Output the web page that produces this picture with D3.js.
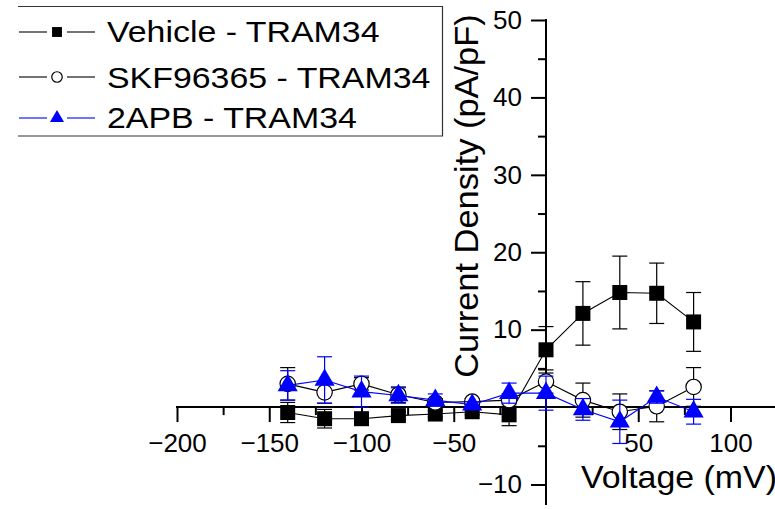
<!DOCTYPE html>
<html>
<head>
<meta charset="utf-8">
<script src="https://cdn.jsdelivr.net/npm/d3@7"></script>
<style>
  html, body { margin: 0; padding: 0; background: #fff; }
  svg { display: block; font-family: "Liberation Sans", Arial, sans-serif; }
</style>
</head>
<body>
<svg id="chart" width="775" height="509"></svg>
<script>
// ---- data ----
const voltages = [-140, -120, -100, -80, -60, -40, -20, 0, 20, 40, 60, 80];
const vehicleMean = [-0.7, -1.5, -1.5, -1.1, -0.9, -0.6, -1.0, 7.4, 12.1, 14.8, 14.7, 11.0];
const vehicleErr  = [1.3, 1.2, 0.5, 0.5, 0.4, 0.4, 1.4, 3.0, 4.1, 4.7, 3.9, 3.8];
const skfMean = [3.0, 1.9, 3.0, 1.6, 0.6, 0.7, 0.9, 3.3, 0.9, -0.6, 0.1, 2.6];
const skfErr  = [2.1, 1.4, 0.8, 1.0, 0.5, 0.4, 0.8, 1.5, 2.2, 2.3, 2.0, 2.5];
const apbMean = [2.8, 3.5, 2.0, 1.5, 0.9, 0.3, 1.8, 1.8, -0.3, -1.9, 1.3, -0.6];
const apbErr  = [1.9, 3.0, 2.0, 1.0, 0.8, 0.4, 1.3, 2.2, 1.4, 2.8, 0.8, 1.6];
const seriesNames = ["Vehicle - TRAM34", "SKF96365 - TRAM34", "2APB - TRAM34"];
const xMajorTicks = [-200, -150, -100, -50, 50, 100];
const xMinorTicks = [-175, -125, -75, -25, 25, 75, 125];
const yMajorTicks = [-10, 10, 20, 30, 40, 50];
const yMinorTicks = [-5, 5, 15, 25, 35, 45];
const xTitle = "Voltage (mV)";
const yTitle = "Current Density (pA/pF)";

const series = [
  { name: seriesNames[0], mean: vehicleMean, err: vehicleErr, color: "#000", shape: "square" },
  { name: seriesNames[1], mean: skfMean, err: skfErr, color: "#000", shape: "circle" },
  { name: seriesNames[2], mean: apbMean, err: apbErr, color: "#0000ff", shape: "triangle" }
];

const svg = d3.select("#chart");
const x = d3.scaleLinear().domain([-200, 150]).range([177, 177 + 350 * 1.845]);
const y = d3.scaleLinear().domain([-10, 50]).range([484.5, 20]);

const x0 = x(0), y0 = y(0);

// ---- axes ----
function styleAxis(g) {
  g.selectAll(".domain").remove();
  g.selectAll(".tick line").attr("stroke", "#000").attr("stroke-width", 2);
  g.selectAll(".tick text").attr("fill", "#000").style("font-size", "26px")
    .style("font-family", '"Liberation Sans", Arial, sans-serif');
}

// X axis
svg.append("g").attr("transform", `translate(0,${y0})`)
  .call(d3.axisBottom(x).tickValues(xMajorTicks).tickSize(15).tickPadding(11).tickFormat(d3.format("d")))
  .call(styleAxis);
svg.append("g").attr("transform", `translate(0,${y0})`)
  .call(d3.axisBottom(x).tickValues(xMinorTicks).tickSize(8).tickFormat(""))
  .call(styleAxis);
svg.append("line").attr("x1", x(-200) - 1).attr("x2", 775).attr("y1", y0).attr("y2", y0)
  .attr("stroke", "#000").attr("stroke-width", 2);

// Y axis
svg.append("g").attr("transform", `translate(${x0},0)`)
  .call(d3.axisLeft(y).tickValues(yMajorTicks).tickSize(15).tickPadding(9).tickFormat(d3.format("d")))
  .call(styleAxis);
svg.append("g").attr("transform", `translate(${x0},0)`)
  .call(d3.axisLeft(y).tickValues(yMinorTicks).tickSize(8).tickFormat(""))
  .call(styleAxis);
svg.append("line").attr("x1", x0).attr("x2", x0).attr("y1", y(50) - 1).attr("y2", 505)
  .attr("stroke", "#000").attr("stroke-width", 2);

// Axis titles
svg.append("text").attr("transform", "translate(581,488) scale(1.06,1)").text(xTitle)
  .style("font-size", "32px").attr("fill", "#000");
svg.append("text").attr("transform", `translate(478,196) rotate(-90) scale(1.06,1)`).attr("text-anchor", "middle")
  .text(yTitle).style("font-size", "32.5px").attr("fill", "#000");

// ---- series ----
function drawMarker(g, shape, cx, cy, color, scale) {
  if (shape === "square") {
    g.append("path").attr("d", d3.symbol(d3.symbolSquare, 225 * scale * scale)())
      .attr("transform", `translate(${cx},${cy})`).attr("fill", color);
  } else if (shape === "circle") {
    g.append("circle").attr("cx", cx).attr("cy", cy).attr("r", 7.7 * scale)
      .attr("fill", "#fff").attr("stroke", color).attr("stroke-width", 1.2);
  } else {
    g.append("path").attr("d", d3.symbol(d3.symbolTriangle, 175 * scale * scale)())
      .attr("transform", `translate(${cx},${cy})`).attr("fill", color);
  }
}

const line = d3.line().x(d => x(d.v)).y(d => y(d.m));
const capW = 7.5;

series.forEach(s => {
  const pts = voltages.map((v, i) => ({ v, m: s.mean[i], e: s.err[i] }));
  const g = svg.append("g");
  // error bars
  pts.forEach(p => {
    const px = x(p.v), yt = y(p.m + p.e), yb = y(p.m - p.e);
    g.append("line").attr("x1", px).attr("x2", px).attr("y1", yt).attr("y2", yb)
      .attr("stroke", s.color).attr("stroke-width", 1.2);
    [yt, yb].forEach(yy => g.append("line").attr("x1", px - capW).attr("x2", px + capW)
      .attr("y1", yy).attr("y2", yy).attr("stroke", s.color).attr("stroke-width", 1.2));
  });
  g.append("path").datum(pts).attr("d", line).attr("fill", "none")
    .attr("stroke", s.color).attr("stroke-width", 1.1);
  pts.forEach(p => drawMarker(g, s.shape, x(p.v), y(p.m), s.color, 1));
});

// ---- legend ----
const leg = svg.append("g");
leg.append("path").attr("d", "M18,6.5 H442.5 V136 H18").attr("fill", "none")
  .attr("stroke", "#333").attr("stroke-width", 1.2);
const rowY = [32, 77, 118];
const rowBase = [42, 88, 128];
series.forEach((s, i) => {
  const yy = rowY[i];
  leg.append("line").attr("x1", 19).attr("x2", 47).attr("y1", yy).attr("y2", yy)
    .attr("stroke", s.color).attr("stroke-width", 1.1);
  leg.append("line").attr("x1", 67).attr("x2", 95).attr("y1", yy).attr("y2", yy)
    .attr("stroke", s.color).attr("stroke-width", 1.1);
  drawMarker(leg, s.shape, 57, yy, s.color, s.shape === "circle" ? 0.68 : (s.shape === "triangle" ? 0.7 : 0.66));
  leg.append("text").attr("transform", `translate(107,${rowBase[i]}) scale(1.13,1)`).text(s.name)
    .style("font-size", "30px").attr("fill", "#000");
});
</script>
</body>
</html>
